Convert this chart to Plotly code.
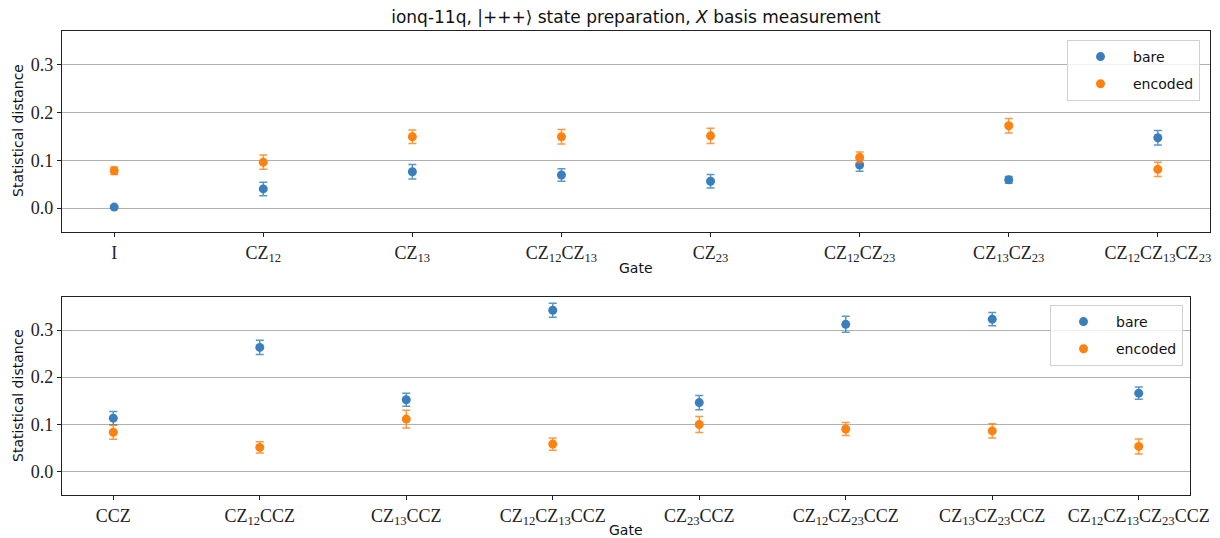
import plotly.graph_objects as go

# ---------------- data ----------------
gates_top = ["I", "CZ<sub>12</sub>", "CZ<sub>13</sub>", "CZ<sub>12</sub>CZ<sub>13</sub>",
             "CZ<sub>23</sub>", "CZ<sub>12</sub>CZ<sub>23</sub>", "CZ<sub>13</sub>CZ<sub>23</sub>",
             "CZ<sub>12</sub>CZ<sub>13</sub>CZ<sub>23</sub>"]
bare_top = [0.002, 0.040, 0.076, 0.069, 0.056, 0.090, 0.059, 0.147]
bare_top_err = [0.002, 0.014, 0.015, 0.013, 0.014, 0.013, 0.007, 0.015]
enc_top = [0.078, 0.096, 0.149, 0.149, 0.151, 0.106, 0.172, 0.081]
enc_top_err = [0.008, 0.015, 0.014, 0.015, 0.016, 0.011, 0.015, 0.015]

gates_bot = ["CCZ", "CZ<sub>12</sub>CCZ", "CZ<sub>13</sub>CCZ", "CZ<sub>12</sub>CZ<sub>13</sub>CCZ",
             "CZ<sub>23</sub>CCZ", "CZ<sub>12</sub>CZ<sub>23</sub>CCZ", "CZ<sub>13</sub>CZ<sub>23</sub>CCZ",
             "CZ<sub>12</sub>CZ<sub>13</sub>CZ<sub>23</sub>CCZ"]
bare_bot = [0.113, 0.263, 0.152, 0.342, 0.146, 0.312, 0.323, 0.166]
bare_bot_err = [0.014, 0.015, 0.014, 0.015, 0.015, 0.017, 0.014, 0.013]
enc_bot = [0.083, 0.051, 0.111, 0.058, 0.0995, 0.090, 0.086, 0.053]
enc_bot_err = [0.015, 0.012, 0.019, 0.013, 0.017, 0.014, 0.015, 0.016]

series_names = ["bare", "encoded"]
y_ticks = [0.0, 0.1, 0.2, 0.3]
y_ticklabels = ["0.0", "0.1", "0.2", "0.3"]
y_range = [-0.05, 0.37]

BLUE = "#3a7ebd"
BLUE_ERR = "rgba(31,119,180,0.75)"
ORANGE = "#ff8210"
ORANGE_ERR = "rgba(255,127,14,0.8)"

W, H = 1220, 538
fig = go.Figure()


def add_series(x, y, err, name, color, ecolor, xa, ya, legend):
    fig.add_trace(go.Scatter(
        x=x, y=y, mode="markers", name=name, legendgroup=legend + name,
        marker=dict(color=color, size=9, line=dict(width=0)),
        error_y=dict(type="data", array=err, visible=True, color=ecolor,
                     thickness=1.5, width=4),
        xaxis=xa, yaxis=ya, legend=legend, showlegend=True))


add_series(gates_top, bare_top, bare_top_err, series_names[0], BLUE, BLUE_ERR, "x", "y", "legend")
add_series(gates_top, enc_top, enc_top_err, series_names[1], ORANGE, ORANGE_ERR, "x", "y", "legend")
add_series(gates_bot, bare_bot, bare_bot_err, series_names[0], BLUE, BLUE_ERR, "x2", "y2", "legend2")
add_series(gates_bot, enc_bot, enc_bot_err, series_names[1], ORANGE, ORANGE_ERR, "x2", "y2", "legend2")

tick_font = dict(family="Liberation Serif, DejaVu Serif, serif", size=18, color="#222")
label_font = dict(family="DejaVu Sans, sans-serif", size=14, color="#111")
legend_font = dict(family="DejaVu Sans, sans-serif", size=14, color="#111")

xcommon = dict(type="category", range=[-0.35, 7.35], showgrid=False, zeroline=False,
               showline=True, linecolor="#222", linewidth=1.2, mirror=True,
               ticks="outside", ticklen=4, tickcolor="#222", tickfont=tick_font,
               automargin=False)
ycommon = dict(range=y_range, tickvals=y_ticks, ticktext=y_ticklabels,
               showgrid=True, gridcolor="#b0b0b0", gridwidth=1, zeroline=False,
               showline=True, linecolor="#222", linewidth=1.2, mirror=True,
               ticks="outside", ticklen=4, tickcolor="#222", tickfont=tick_font,
               automargin=False)

legend_common = dict(xanchor="right", yanchor="top",
                     bgcolor="rgba(255,255,255,0.8)", bordercolor="#d0d0d0", borderwidth=1,
                     font=legend_font, itemwidth=55, tracegroupgap=6)

fig.update_layout(
    width=W, height=H, margin=dict(l=0, r=0, t=0, b=0, autoexpand=False),
    paper_bgcolor="white", plot_bgcolor="white",
    xaxis=dict(xcommon, domain=[62 / W, 1210 / W], anchor="y"),
    yaxis=dict(ycommon, domain=[1 - 232 / H, 1 - 31 / H], anchor="x"),
    xaxis2=dict(xcommon, domain=[62 / W, 1190 / W], anchor="y2"),
    yaxis2=dict(ycommon, domain=[1 - 495 / H, 1 - 297 / H], anchor="x2"),
    title=dict(text="ionq-11q, |+++⟩ state preparation, <i>X</i> basis measurement",
               x=636 / W, xanchor="center", y=1 - 17 / H, yanchor="middle",
               font=dict(family="DejaVu Sans, sans-serif", size=17, color="#111")),
    legend=dict(legend_common, x=1200 / W, y=1 - 40 / H),
    legend2=dict(legend_common, x=1183 / W, y=1 - 305 / H),
)

# axis titles placed as annotations
axis_titles = [
    ("Gate", 636, 268, 0),
    ("Gate", 626, 530, 0),
    ("Statistical distance", 18, 131, -90),
    ("Statistical distance", 18, 396, -90),
]
for text, px, py, ang in axis_titles:
    fig.add_annotation(text=text, x=px / W, y=1 - py / H, xref="paper", yref="paper",
                       xanchor="center", yanchor="middle", showarrow=False,
                       textangle=ang, font=label_font)

fig.write_html("out.html", config={"displayModeBar": False})

# remove the default page margin so the figure sits at the window's top-left corner
with open("out.html", encoding="utf-8") as f:
    html = f.read()
html = html.replace("<head>", "<head><style>html,body{margin:0;padding:0;overflow:hidden;}</style>", 1)
with open("out.html", "w", encoding="utf-8") as f:
    f.write(html)
